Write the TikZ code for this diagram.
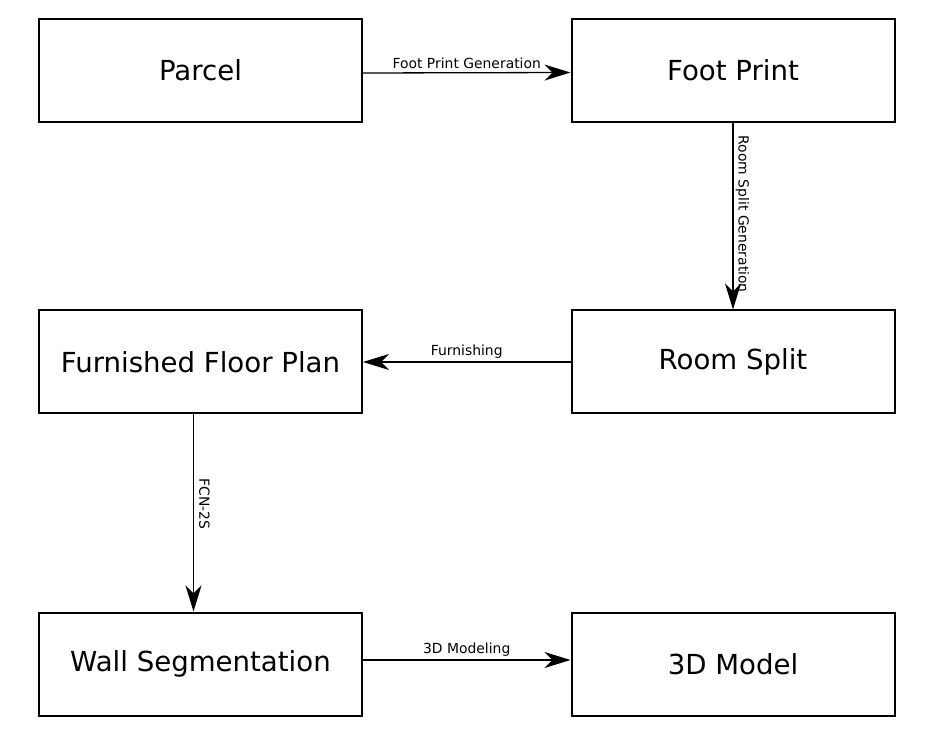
\documentclass[tikz,border=0pt]{standalone}
\usepackage{fontspec}
\setmainfont{DejaVu Sans}
\usetikzlibrary{arrows.meta}
\tikzset{
  box/.style={draw, line width=2pt, minimum width=323pt, minimum height=103pt, font=\fontsize{27.6}{32}\selectfont},
  flow/.style={line width=1.3pt, -{Stealth[length=26pt, width=16pt, inset=8pt]}},
  lbl/.style={font=\fontsize{13.9}{16}\selectfont, inner sep=2pt}
}
\begin{document}
\begin{tikzpicture}[x=1pt, y=-1pt]
\useasboundingbox (0,0) rectangle (938,751);
\node[box] (parcel) at (200.5,70.5){Parcel};
\node[box] (foot) at (733,70.5){Foot Print};
\node[box] (furn) at (200.5,362){Furnished Floor Plan};
\node[box] (room) at (733,362){Room Split};
\node[box] (wall) at (200.5,664){Wall Segmentation};
\node[box] (model) at (733,664){3D Model};
\draw[flow] ([yshift=-2.5pt]parcel.east) -- node[lbl, above, yshift=1pt]{Foot Print Generation} ([yshift=-2pt]foot.west);
\draw[flow] (foot.south) -- node[lbl, anchor=south, rotate=-90, xshift=-2pt]{Room Split Generation} (room.north);
\draw[flow] (room.west) -- node[lbl, above, yshift=1pt]{Furnishing} (furn.west -| furn.east);
\draw[flow] ([xshift=-7pt]furn.south) -- node[lbl, anchor=south, rotate=-90, xshift=-9pt, yshift=3pt]{FCN-2S} ([xshift=-7pt]wall.north);
\draw[flow] ([yshift=4pt]wall.east) -- node[lbl, above, yshift=1pt]{3D Modeling} ([yshift=4pt]model.west);
\end{tikzpicture}
\end{document}
